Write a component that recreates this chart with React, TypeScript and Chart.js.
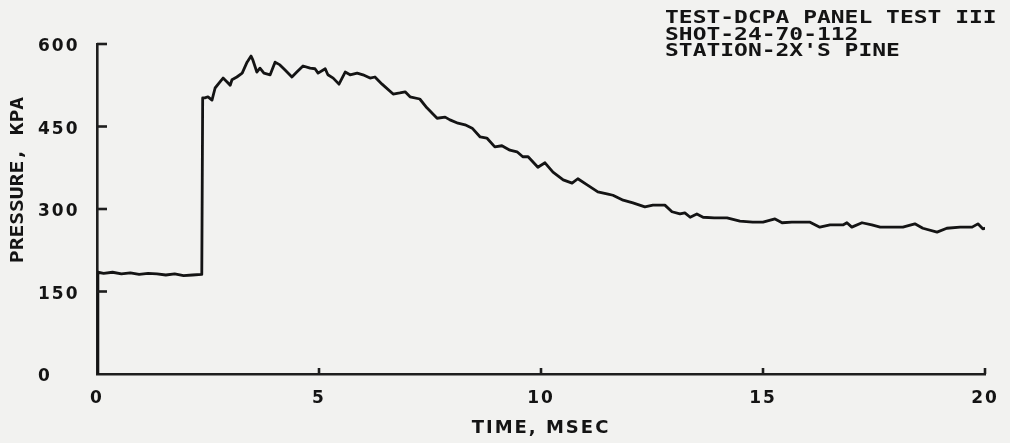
import React, { useEffect, useRef } from "react";
import { Chart, registerables } from "chart.js";

Chart.register(...registerables);

// Time axis (ms) and pressure (kPa)
const timeMs = [
  0, 0.02, 0.15, 0.35, 0.55, 0.75, 0.95, 1.15, 1.35, 1.55,
  1.75, 1.95, 2.15, 2.36, 2.38, 2.43, 2.5, 2.59, 2.66, 2.77,
  2.84, 2.93, 3.0, 3.04, 3.15, 3.27, 3.38, 3.47, 3.51, 3.6,
  3.67, 3.76, 3.9, 4.01, 4.12, 4.23, 4.39, 4.5, 4.64, 4.8,
  4.91, 4.98, 5.14, 5.2, 5.32, 5.45, 5.59, 5.7, 5.86, 5.99,
  6.15, 6.26, 6.42, 6.67, 6.82, 6.94, 7.05, 7.27, 7.43, 7.66,
  7.84, 7.95, 8.13, 8.29, 8.45, 8.63, 8.78, 8.96, 9.12, 9.3,
  9.46, 9.59, 9.71, 9.93, 10.09, 10.27, 10.5, 10.7, 10.83, 11.04,
  11.28, 11.51, 11.62, 11.85, 12.07, 12.34, 12.52, 12.79, 12.95, 13.13,
  13.24, 13.36, 13.51, 13.65, 13.9, 14.19, 14.48, 14.77, 15.0, 15.27,
  15.43, 15.65, 15.83, 16.06, 16.28, 16.51, 16.8, 16.89, 17.0, 17.23,
  17.45, 17.64, 17.93, 18.15, 18.42, 18.6, 18.92, 19.14, 19.44, 19.71,
  19.84, 19.95, 20.0,
];

const pressureKpa = [
  0, 185, 183, 185, 182, 184, 181, 183, 182, 180,
  182, 179, 180, 181, 502, 502, 504, 498, 520, 531,
  538, 531, 525, 535, 540, 547, 567, 578, 571, 549,
  556, 547, 544, 567, 562, 553, 540, 549, 560, 556,
  555, 547, 555, 544, 538, 527, 549, 544, 547, 544,
  538, 540, 527, 509, 511, 513, 504, 500, 484, 465,
  467, 462, 456, 453, 447, 431, 429, 413, 415, 407,
  404, 395, 395, 376, 384, 367, 353, 347, 355, 344,
  331, 327, 325, 316, 311, 304, 307, 307, 295, 291,
  293, 285, 291, 285, 284, 284, 278, 276, 276, 282,
  275, 276, 276, 276, 267, 271, 271, 275, 267, 275,
  271, 267, 267, 267, 273, 265, 258, 265, 267, 267,
  273, 264, 265,
];

const xTickValues = [0, 5, 10, 15, 20];
const yTickValues = [0, 150, 300, 450, 600];

const xTitle = "TIME, MSEC";
const yTitle = "PRESSURE, KPA";
const annotationLines = [
  "TEST-DCPA PANEL TEST III",
  "SHOT-24-70-112",
  "STATION-2X'S PINE",
];

const INK = "#141414";
const AXIS = "#1e1e1e";

const textPlugin = {
  id: "plotText",
  beforeDraw(chart: any) {
    const ctx = chart.ctx as any;
    ctx.letterSpacing = "2px";
  },
  afterDraw(chart: any) {
    const ctx = chart.ctx as any;
    const xs = chart.scales.x;
    const ys = chart.scales.y;
    ctx.save();
    ctx.letterSpacing = "0px";
    // inward tick marks, placed through the scales
    ctx.strokeStyle = AXIS;
    ctx.lineWidth = 2.6;
    const axisX = xs.getPixelForValue(0);
    const axisY = ys.getPixelForValue(0);
    yTickValues.forEach((v) => {
      if (v === 0) return;
      const py = ys.getPixelForValue(v);
      ctx.beginPath();
      ctx.moveTo(axisX, py);
      ctx.lineTo(axisX + 10, py);
      ctx.stroke();
    });
    xTickValues.forEach((v) => {
      if (v === 0) return;
      const px = xs.getPixelForValue(v);
      ctx.beginPath();
      ctx.moveTo(px, axisY);
      ctx.lineTo(px, axisY - 6);
      ctx.stroke();
    });

    ctx.fillStyle = INK;
    ctx.font = 'bold 17px "DejaVu Sans Mono"';
    ctx.textBaseline = "middle";
    ctx.textAlign = "left";
    annotationLines.forEach((t, i) => {
      ctx.save();
      ctx.translate(665, 18.5 + i * 16.7);
      ctx.scale(1.35, 1);
      ctx.fillText(t, 0, 0);
      ctx.restore();
    });
    ctx.save();
    ctx.translate(19, 180);
    ctx.rotate(-Math.PI / 2);
    ctx.scale(1.25, 1);
    ctx.textAlign = "center";
    ctx.fillText(yTitle, 0, 0);
    ctx.restore();
    ctx.restore();
  },
};

export default function App() {
  const ref = useRef<HTMLCanvasElement | null>(null);

  useEffect(() => {
    if (!ref.current) return;
    const data = timeMs.map((t, i) => ({ x: t, y: pressureKpa[i] }));
    const chart = new Chart(ref.current, {
      type: "line",
      data: {
        datasets: [
          {
            data,
            borderColor: INK,
            borderWidth: 2.8,
            pointRadius: 0,
            tension: 0,
            fill: false,
            borderJoinStyle: "round",
            borderCapStyle: "round",
          },
        ],
      },
      options: {
        animation: false,
        responsive: false,
        maintainAspectRatio: false,
        layout: { padding: { left: 38, top: 44, right: 25, bottom: 0 } },
        plugins: {
          legend: { display: false },
          tooltip: { enabled: false },
          title: { display: false },
        },
        scales: {
          x: {
            type: "linear",
            min: 0,
            max: 20,
            afterFit: (s: any) => {
              s.height = 69;
            },
            afterBuildTicks: (s: any) => {
              s.ticks = xTickValues.map((v) => ({ value: v }));
            },
            ticks: {
              color: INK,
              font: { family: "DejaVu Sans", weight: "bold", size: 17 },
              padding: 6,
              maxRotation: 0,
              autoSkip: false,
              callback: (v: any) => String(v),
            },
            grid: { display: false },
            border: { display: true, color: AXIS, width: 2.6 },
            title: {
              display: true,
              text: xTitle,
              color: INK,
              font: { family: "DejaVu Sans", weight: "bold", size: 18 },
              padding: { top: 0, bottom: 4 },
            },
          },
          y: {
            type: "linear",
            min: 0,
            max: 600,
            afterFit: (s: any) => {
              s.width = 59;
            },
            afterBuildTicks: (s: any) => {
              s.ticks = yTickValues.map((v) => ({ value: v }));
            },
            ticks: {
              color: INK,
              font: { family: "DejaVu Sans", weight: "bold", size: 17 },
              crossAlign: "far",
              labelOffset: 3,
              autoSkip: false,
              callback: (v: any) => String(v),
            },
            grid: { display: false },
            border: { display: true, color: AXIS, width: 2.6 },
          },
        },
      },
      plugins: [textPlugin],
    } as any);
    return () => chart.destroy();
  }, []);

  return (
    <div
      style={{
        position: "absolute",
        left: 0,
        top: 0,
        width: 1010,
        height: 443,
        background: "#f2f2f0",
      }}
    >
      <canvas ref={ref} width={1010} height={443} style={{ display: "block" }} />
    </div>
  );
}
